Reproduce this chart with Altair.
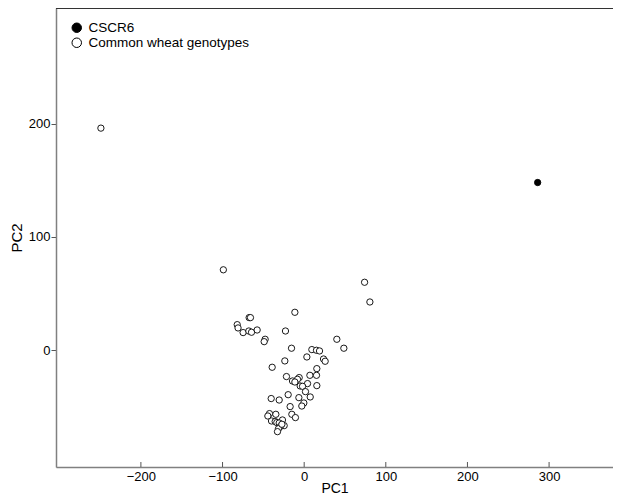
import altair as alt
import pandas as pd

# PC scores
cscr_pc1 = [286]
cscr_pc2 = [148]

wheat_pc1 = [-249, -99, 74, 80.5, -11.4, -67.4, -65.8, -82, -81, -74.8, -67.8, -64.5,
             -57.6, -22.9, -47.8, -49, 40, 48.6, -15.5, 9.4, 15.1, 18.8, 3.3, 23.7,
             25.7, -23.7, -39.2, 15.5, 7, 15.1, -21.7, -6.1, -8.2, -14.3, -11.4, 4.1,
             -4.9, -2, 15.5, 1.6, 7.4, -6.5, -19.6, -40.4, -30.6, -0.4, -2.9, -17.2,
             -42.5, -44.5, -34.7, -15.1, -10.7, -40, -35.5, -33.5, -26.6, -30.6, -24.5,
             -29.4, -31.5, -32.7, -27.3]
wheat_pc2 = [196, 71, 60, 42.6, 33.5, 28.8, 28.8, 22.6, 19.7, 15.6, 17, 15.9,
             17.9, 17, 9.7, 7.6, 9.7, 1.8, 1.8, 0.6, 0, -0.6, -5.9, -7.7,
             -9.7, -9.4, -15, -16.2, -22.1, -22.1, -23.2, -24.1, -25.6, -27.1, -28, -29.4,
             -31.5, -31.8, -31.2, -36.5, -41.2, -41.8, -39.2, -42.6, -43.9, -46.5, -49.2, -49.7,
             -55.9, -58, -56.5, -56.5, -59.4, -62.4, -62.9, -63.8, -61.5, -64.2, -66.5,
             -67.4, -69.2, -71.8, -65.3]

groups = ["CSCR6", "Common wheat genotypes"]
x_ticks = [-200, -100, 0, 100, 200, 300]
y_ticks = [0, 100, 200]
x_domain = [-304, 378.3]
y_domain = [-103, 302]

df = pd.DataFrame({
    "PC1": cscr_pc1 + wheat_pc1,
    "PC2": cscr_pc2 + wheat_pc2,
    "group": [groups[0]] * len(cscr_pc1) + [groups[1]] * len(wheat_pc1),
})
ticks_df = pd.DataFrame({"t": x_ticks})

W, H = 557, 459
FONT = "Liberation Sans"

points = alt.Chart(df).mark_point(
    shape="circle", filled=True, size=40, stroke="black", strokeWidth=0.9, opacity=1
).encode(
    x=alt.X("PC1:Q", scale=alt.Scale(domain=x_domain, nice=False, zero=False),
            axis=alt.Axis(values=x_ticks, title="PC1", grid=False, ticks=False,
                          labelPadding=3, labelFontSize=13, titleFontSize=14,
                          titleBaseline="bottom", titleY=28, titleFontWeight="normal",
                          domainColor="#808080", domainWidth=1.5,
                          labelColor="black", titleColor="black")),
    y=alt.Y("PC2:Q", scale=alt.Scale(domain=y_domain, nice=False, zero=False),
            axis=alt.Axis(values=y_ticks, title="PC2", grid=False, tickSize=5,
                          tickColor="#555555", labelPadding=1, labelFontSize=13,
                          titleFontSize=15, titlePadding=4, titleFontWeight="normal",
                          domainColor="#808080", domainWidth=1.5,
                          labelColor="black", titleColor="black")),
    fill=alt.Fill("group:N", scale=alt.Scale(domain=groups, range=["black", "white"]),
                  legend=alt.Legend(title=None, orient="none", legendX=14, legendY=13,
                                    symbolType="circle", symbolSize=90,
                                    symbolStrokeColor="black", symbolStrokeWidth=1,
                                    labelFontSize=13.5, labelColor="black", labelLimit=0,
                                    labelOffset=5, rowPadding=0, padding=0)),
)

xticks = alt.Chart(ticks_df).mark_rule(color="#555555", strokeWidth=1).encode(
    x=alt.X("t:Q", scale=alt.Scale(domain=x_domain, nice=False, zero=False)),
    y=alt.value(H),
    y2=alt.value(H - 5),
)

top_border = alt.Chart(ticks_df).mark_rule(color="#333333", strokeWidth=1).encode(
    x=alt.value(0), x2=alt.value(W), y=alt.value(0.5)
)

chart = alt.layer(top_border, xticks, points).properties(
    width=W, height=H,
    autosize=alt.AutoSizeParams(type="none"),
    padding={"left": 48, "top": 0, "right": 0, "bottom": 29},
).configure_view(stroke=None).configure(font=FONT)

chart.save("out.html", embed_options={"renderer": "svg", "actions": False})
